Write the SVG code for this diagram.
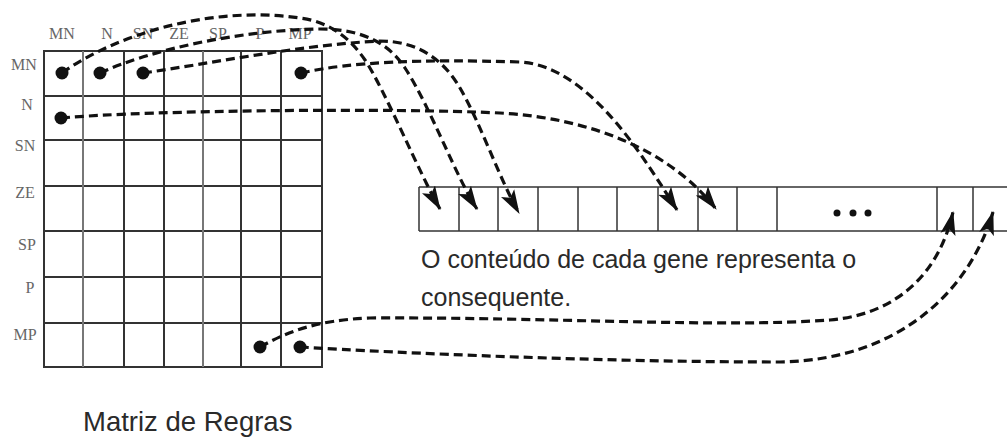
<svg xmlns="http://www.w3.org/2000/svg" width="1007" height="437" viewBox="0 0 1007 437">
<style>
.grid{fill:none;stroke:#333;stroke-width:2}
.gridl{fill:none;stroke:#777;stroke-width:2}
.strip{fill:none;stroke:#333;stroke-width:1.5}
.lbl{font-family:"Liberation Serif",serif;font-size:16px;fill:#666;text-anchor:middle}
.txt{font-family:"Liberation Sans",Arial,sans-serif;fill:#2a2a2a}
.con{fill:none;stroke:#111;stroke-width:3.2;stroke-dasharray:9 5}
.dot{fill:#111}
</style>
<defs>
<marker id="ah" markerUnits="userSpaceOnUse" markerWidth="24" markerHeight="16" viewBox="0 0 22 14" refX="21" refY="7" orient="auto">
<path d="M0,0 L22,7 L0,14 L5,7 z" fill="#111"/>
</marker>
</defs>
<rect width="1007" height="437" fill="#fff"/>
<g id="matriz">
<rect class="grid" x="44" y="51" width="278" height="316"/>
<g class="grid">
<line x1="124" y1="51" x2="124" y2="367"/>
<line x1="164" y1="51" x2="164" y2="367"/>
<line x1="241" y1="51" x2="241" y2="367"/>
<line x1="281" y1="51" x2="281" y2="367"/>
<line x1="44" y1="96" x2="322" y2="96"/>
<line x1="44" y1="140" x2="322" y2="140"/>
<line x1="44" y1="186" x2="322" y2="186"/>
<line x1="44" y1="231" x2="322" y2="231"/>
<line x1="44" y1="277" x2="322" y2="277"/>
<line x1="44" y1="323" x2="322" y2="323"/>
</g>
<g class="gridl">
<line x1="83" y1="51" x2="83" y2="367"/>
<line x1="203" y1="51" x2="203" y2="367"/>
</g>
<g id="col-labels">
<text class="lbl" x="62" y="39">MN</text>
<text class="lbl" x="107" y="39">N</text>
<text class="lbl" x="143" y="39">SN</text>
<text class="lbl" x="179" y="39">ZE</text>
<text class="lbl" x="218" y="39">SP</text>
<text class="lbl" x="260" y="39">P</text>
<text class="lbl" x="300" y="39">MP</text>
</g>
<g id="row-labels">
<text class="lbl" x="24" y="70">MN</text>
<text class="lbl" x="27" y="110">N</text>
<text class="lbl" x="25" y="151">SN</text>
<text class="lbl" x="25" y="198">ZE</text>
<text class="lbl" x="27" y="250">SP</text>
<text class="lbl" x="30" y="293">P</text>
<text class="lbl" x="25" y="340">MP</text>
</g>
</g>
<g id="cromossomo">
<line class="strip" x1="419" y1="187" x2="1007" y2="187"/>
<line class="strip" x1="419" y1="231" x2="1007" y2="231"/>
<g class="strip">
<line x1="419" y1="187" x2="419" y2="231"/>
<line x1="459" y1="187" x2="459" y2="231"/>
<line x1="498" y1="187" x2="498" y2="231"/>
<line x1="538" y1="187" x2="538" y2="231"/>
<line x1="578" y1="187" x2="578" y2="231"/>
<line x1="617" y1="187" x2="617" y2="231"/>
<line x1="658" y1="187" x2="658" y2="231"/>
<line x1="698" y1="187" x2="698" y2="231"/>
<line x1="737" y1="187" x2="737" y2="231"/>
<line x1="777" y1="187" x2="777" y2="231"/>
<line x1="937" y1="187" x2="937" y2="231"/>
<line x1="973" y1="187" x2="973" y2="231"/>
</g>
<circle class="dot" cx="837" cy="213" r="3.5"/>
<circle class="dot" cx="853" cy="213" r="3.5"/>
<circle class="dot" cx="868" cy="213" r="3.5"/>
</g>
<g id="legenda">
<text class="txt" x="421" y="268" font-size="25">O conteúdo de cada gene representa o</text>
<text class="txt" x="421" y="306" font-size="25">consequente.</text>
</g>
<g id="titulo">
<text class="txt" x="83" y="431" font-size="27.5">Matriz de Regras</text>
</g>
<g id="connectors">
<path class="con" marker-end="url(#ah)" d="M62,73 C115,35 210,5 300,18 C330,22 350,38 365,60 C385,90 420,175 440,209"/>
<path class="con" marker-end="url(#ah)" d="M100,73 C150,50 240,30 320,29 C365,29 390,45 405,68 C430,106 455,175 477,209"/>
<path class="con" marker-end="url(#ah)" d="M143,73 C220,62 300,45 380,41 C420,41 445,62 460,88 C480,122 500,180 519,213"/>
<path class="con" marker-end="url(#ah)" d="M301,73 C350,62 420,59 520,62 C590,66 645,160 677,210"/>
<path class="con" marker-end="url(#ah)" d="M61,118 C150,110 400,108 500,113 C590,118 670,150 716,209"/>
<path class="con" marker-end="url(#ah)" d="M260,347 C285,333 315,320 370,318 C550,317 720,328 830,320 C900,314 940,270 953,212"/>
<path class="con" marker-end="url(#ah)" d="M300,347 C400,353 600,362 780,362 C900,360 970,290 993,212"/>
<circle class="dot" cx="62" cy="73" r="6.5"/>
<circle class="dot" cx="100" cy="73" r="6.5"/>
<circle class="dot" cx="143" cy="73" r="6.5"/>
<circle class="dot" cx="301" cy="73" r="6.5"/>
<circle class="dot" cx="61" cy="118" r="6.5"/>
<circle class="dot" cx="260" cy="347" r="6.5"/>
<circle class="dot" cx="300" cy="347" r="6.5"/>
</g>
</svg>
